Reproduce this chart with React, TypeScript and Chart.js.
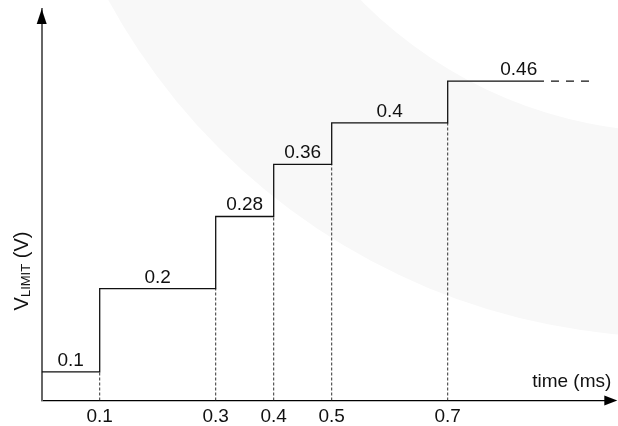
import React, { useEffect, useRef } from 'react';
import { Chart, registerables } from 'chart.js';

Chart.register(...registerables);

// ---- data ----
const stepStarts = [0, 0.1, 0.3, 0.4, 0.5, 0.7];
const stepLabels = ['0.1', '0.2', '0.28', '0.36', '0.4', '0.46'];
// schematic drawn heights on the unlabelled V axis (0..100 = axis length)
const stepHeights = [7.3, 28.6, 47.0, 60.3, 70.9, 81.6];
const solidEnd = 0.866;
const dashEnd = 0.945;
const xTickValues = [0.1, 0.3, 0.4, 0.5, 0.7];
const xTickLabels = ['0.1', '0.3', '0.4', '0.5', '0.7'];
const xAxisTitle = 'time (ms)';
const yTitleMain = 'V';
const yTitleSub = 'LIMIT';
const yTitleTail = ' (V)';

const FONT = '"Liberation Sans", Arial, Helvetica, sans-serif';

const watermarkPlugin = {
  id: 'watermark',
  beforeDraw(chart: any) {
    const ctx = chart.ctx;
    ctx.save();
    ctx.fillStyle = '#f8f8f8';
    ctx.beginPath();
    ctx.arc(675, -308, 645, 0, Math.PI * 2, false);
    ctx.arc(675, -308, 440, 0, Math.PI * 2, true);
    ctx.fill('evenodd');
    ctx.restore();
  },
};

const decorPlugin = {
  id: 'decor',
  afterDraw(chart: any) {
    const ctx = chart.ctx;
    const xs = chart.scales.x;
    const ys = chart.scales.y;
    const area = chart.chartArea;
    ctx.save();
    // y arrow
    ctx.fillStyle = '#000';
    ctx.beginPath();
    ctx.moveTo(area.left, area.top);
    ctx.lineTo(area.left - 5, area.top + 15);
    ctx.lineTo(area.left + 5, area.top + 15);
    ctx.closePath();
    ctx.fill();
    // x arrow
    const yb = area.bottom;
    ctx.beginPath();
    ctx.moveTo(area.right + 13, yb);
    ctx.lineTo(area.right, yb - 5);
    ctx.lineTo(area.right, yb + 5);
    ctx.closePath();
    ctx.fill();

    // step labels
    ctx.fillStyle = '#111';
    ctx.font = `19px ${FONT}`;
    ctx.textAlign = 'center';
    ctx.textBaseline = 'alphabetic';
    stepStarts.forEach((s, i) => {
      const e = i < stepStarts.length - 1 ? stepStarts[i + 1] : dashEnd;
      const px = (xs.getPixelForValue(s) + xs.getPixelForValue(e)) / 2;
      const py = ys.getPixelForValue(stepHeights[i]) - 6;
      ctx.fillText(stepLabels[i], px, py);
    });

    // x axis title
    ctx.textAlign = 'right';
    ctx.fillText(xAxisTitle, area.right + 7, yb - 14);

    // y axis title (rotated, with subscript)
    ctx.translate(27.5, 271);
    ctx.rotate(-Math.PI / 2);
    ctx.textAlign = 'left';
    const bigFont = `20px ${FONT}`;
    const smallFont = `13px ${FONT}`;
    ctx.font = bigFont;
    const w1 = ctx.measureText(yTitleMain).width;
    const w3 = ctx.measureText(yTitleTail).width;
    ctx.font = smallFont;
    const w2 = ctx.measureText(yTitleSub).width;
    let x0 = -(w1 + w2 + w3) / 2;
    ctx.font = bigFont;
    ctx.fillText(yTitleMain, x0, 0);
    x0 += w1;
    ctx.font = smallFont;
    ctx.fillText(yTitleSub, x0, 2.5);
    x0 += w2;
    ctx.font = bigFont;
    ctx.fillText(yTitleTail, x0, 0);
    ctx.restore();
  },
};

export default function App() {
  const ref = useRef<HTMLCanvasElement | null>(null);

  useEffect(() => {
    if (!ref.current) return;
    const last = stepHeights[stepHeights.length - 1];
    const stepData = stepStarts
      .map((x, i) => ({ x, y: stepHeights[i] }))
      .concat([{ x: solidEnd, y: last }]);

    const datasets: any[] = [
      {
        data: stepData,
        stepped: 'before',
        borderColor: '#111',
        borderWidth: 1.3,
        pointRadius: 0,
        fill: false,
      },
      {
        data: [
          { x: solidEnd, y: last },
          { x: dashEnd, y: last },
        ],
        borderColor: '#111',
        borderWidth: 1.3,
        borderDash: [8, 7],
        borderDashOffset: 8,
        pointRadius: 0,
        fill: false,
      },
    ];
    for (let i = 1; i < stepStarts.length; i++) {
      datasets.push({
        data: [
          { x: stepStarts[i], y: 0 },
          { x: stepStarts[i], y: stepHeights[i - 1] },
        ],
        borderColor: '#333',
        borderWidth: 1,
        borderDash: [3, 2],
        pointRadius: 0,
        fill: false,
      });
    }

    const chart = new Chart(ref.current, {
      type: 'line',
      data: { datasets },
      options: {
        animation: false,
        responsive: true,
        maintainAspectRatio: false,
        layout: { padding: { left: 41.7, right: 13.7, top: 9, bottom: 0 } },
        plugins: {
          legend: { display: false },
          tooltip: { enabled: false },
        },
        scales: {
          x: {
            type: 'linear',
            min: 0,
            max: 0.97,
            grid: { display: false, drawTicks: false },
            border: { display: true, color: '#000', width: 1.3 },
            afterBuildTicks: (scale: any) => {
              scale.ticks = xTickValues.map((v) => ({ value: v }));
            },
            afterFit: (scale: any) => {
              scale.height = 25.5;
            },
            ticks: {
              autoSkip: false,
              maxRotation: 0,
              padding: 5,
              color: '#111',
              font: { family: FONT, size: 19 },
              callback: (value: any) => {
                const i = xTickValues.indexOf(Number(value));
                return i >= 0 ? xTickLabels[i] : '';
              },
            },
          },
          y: {
            type: 'linear',
            min: 0,
            max: 100,
            grid: { display: false, drawTicks: false },
            border: { display: true, color: '#666', width: 2 },
            ticks: { display: false },
            afterFit: (scale: any) => {
              scale.width = 0;
            },
          },
        },
      } as any,
      plugins: [watermarkPlugin, decorPlugin],
    });
    return () => chart.destroy();
  }, []);

  return (
    <div style={{ position: 'absolute', left: 0, top: 0, width: 618, height: 426, background: '#fff' }}>
      <canvas ref={ref} />
    </div>
  );
}
